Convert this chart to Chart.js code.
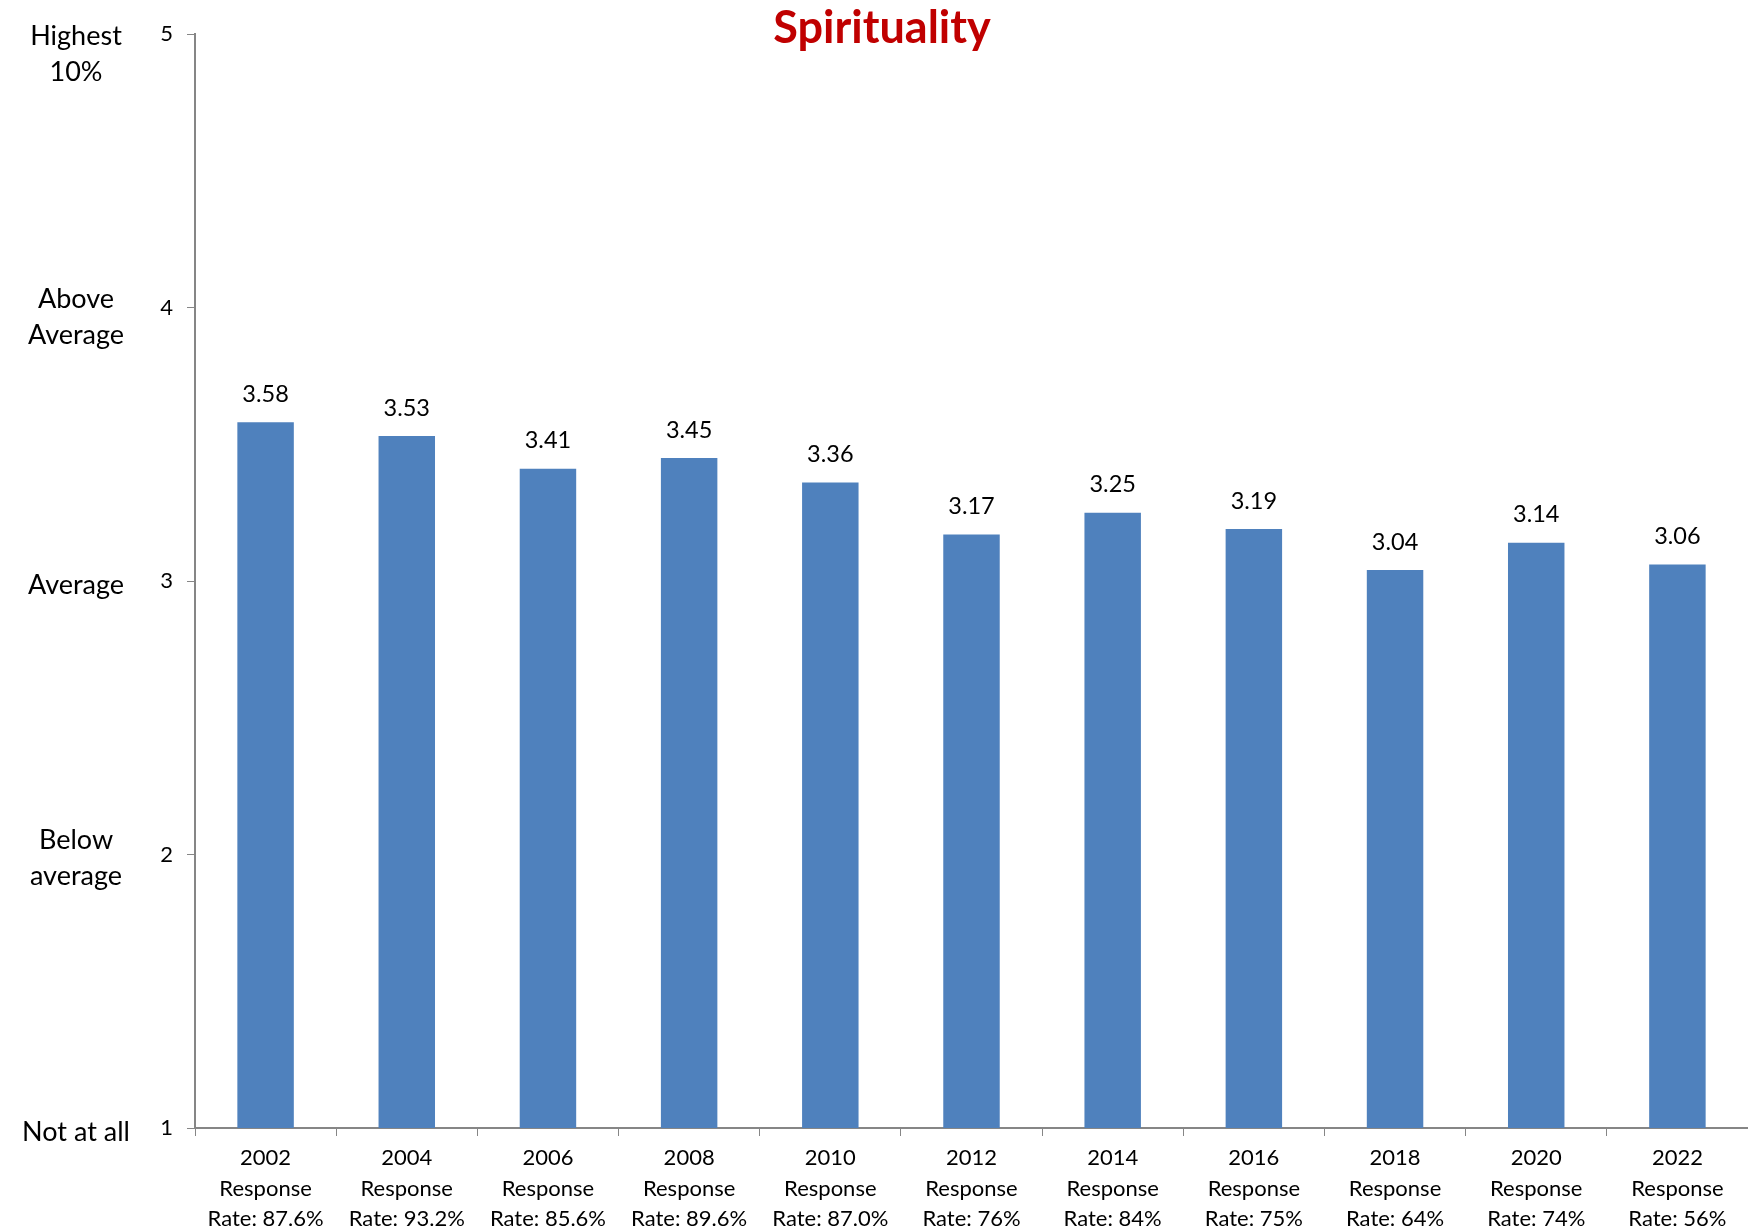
<!DOCTYPE html>
<html>
<head>
<meta charset="utf-8">
<script src="https://cdn.jsdelivr.net/npm/chart.js@4.4.1/dist/chart.umd.min.js"></script>
<style>
  html, body { margin: 0; padding: 0; background: #fff; }
  #wrap { width: 1748px; height: 1230px; }
</style>
</head>
<body>
<div id="wrap"><canvas id="myChart"></canvas></div>
<script>
const years = ['2002', '2004', '2006', '2008', '2010', '2012', '2014', '2016', '2018', '2020', '2022'];
const responseRates = ['87.6%', '93.2%', '85.6%', '89.6%', '87.0%', '76%', '84%', '75%', '64%', '74%', '56%'];
const scores = [3.58, 3.53, 3.41, 3.45, 3.36, 3.17, 3.25, 3.19, 3.04, 3.14, 3.06];
const yTicks = [1, 2, 3, 4, 5];
const yDescriptors = [['Not at all'], ['Below', 'average'], ['Average'], ['Above', 'Average'], ['Highest', '10%']];

const FONT = 'Lato, "Open Sans", sans-serif';

// labels under each bar: year + response rate
const labels = years.map((y, i) => [y, 'Response', 'Rate: ' + responseRates[i]]);

// draws title, value labels and the left-hand descriptors
const extras = {
  id: 'extras',
  afterDraw(chart) {
    const ctx = chart.ctx;
    const yScale = chart.scales.y;
    ctx.save();

    // title
    ctx.fillStyle = '#C00000';
    ctx.font = 'bold 45px ' + FONT;
    ctx.textAlign = 'center';
    ctx.textBaseline = 'middle';
    ctx.fillText('Spirituality', 882, 28);

    // values above bars
    ctx.fillStyle = '#000';
    ctx.font = '23.5px ' + FONT;
    const meta = chart.getDatasetMeta(0);
    meta.data.forEach((bar, i) => {
      ctx.fillText(scores[i].toFixed(2), bar.x, bar.y - 28);
    });

    // descriptors next to y ticks
    ctx.font = '27px ' + FONT;
    const lh = 36;
    yTicks.forEach((v, i) => {
      const lines = yDescriptors[i];
      let top = yScale.getPixelForValue(v) + 4 - (lines.length - 1) * lh / 2;
      if (lines.length > 1 && v === 4) top += 6;
      if (top < 36) top = 36;
      lines.forEach((t, j) => ctx.fillText(t, 76, top + j * lh));
    });
    ctx.restore();
  }
};

const ctx = document.getElementById('myChart').getContext('2d');
new Chart(ctx, {
  type: 'bar',
  data: {
    labels: labels,
    datasets: [{
      label: 'Spirituality',
      data: scores,
      backgroundColor: '#4F81BD',
      borderWidth: 0,
      categoryPercentage: 1,
      barPercentage: 0.4
    }]
  },
  options: {
    responsive: true,
    maintainAspectRatio: false,
    animation: false,
    layout: { padding: { top: 34, right: 0, left: 0, bottom: 0 } },
    plugins: {
      legend: { display: false },
      title: { display: false },
      tooltip: { enabled: false }
    },
    scales: {
      y: {
        min: 1,
        max: 5,
        afterFit(scale) { scale.width = 195; },
        afterBuildTicks(scale) { scale.ticks = yTicks.map(v => ({ value: v })); },
        ticks: {
          color: '#000',
          font: { family: FONT, size: 22 },
          padding: 14
        },
        grid: { drawOnChartArea: false, drawTicks: true, tickLength: 8, color: '#868686' },
        border: { color: '#868686', width: 2 }
      },
      x: {
        afterFit(scale) { scale.height = 102; },
        ticks: {
          color: '#000',
          font: { family: FONT, size: 22, lineHeight: 1.38 },
          padding: 7,
          maxRotation: 0,
          autoSkip: false
        },
        grid: { offset: true, drawOnChartArea: false, drawTicks: true, tickLength: 8, color: '#868686' },
        border: { color: '#868686', width: 2 }
      }
    }
  },
  plugins: [extras]
});
</script>
</body>
</html>
